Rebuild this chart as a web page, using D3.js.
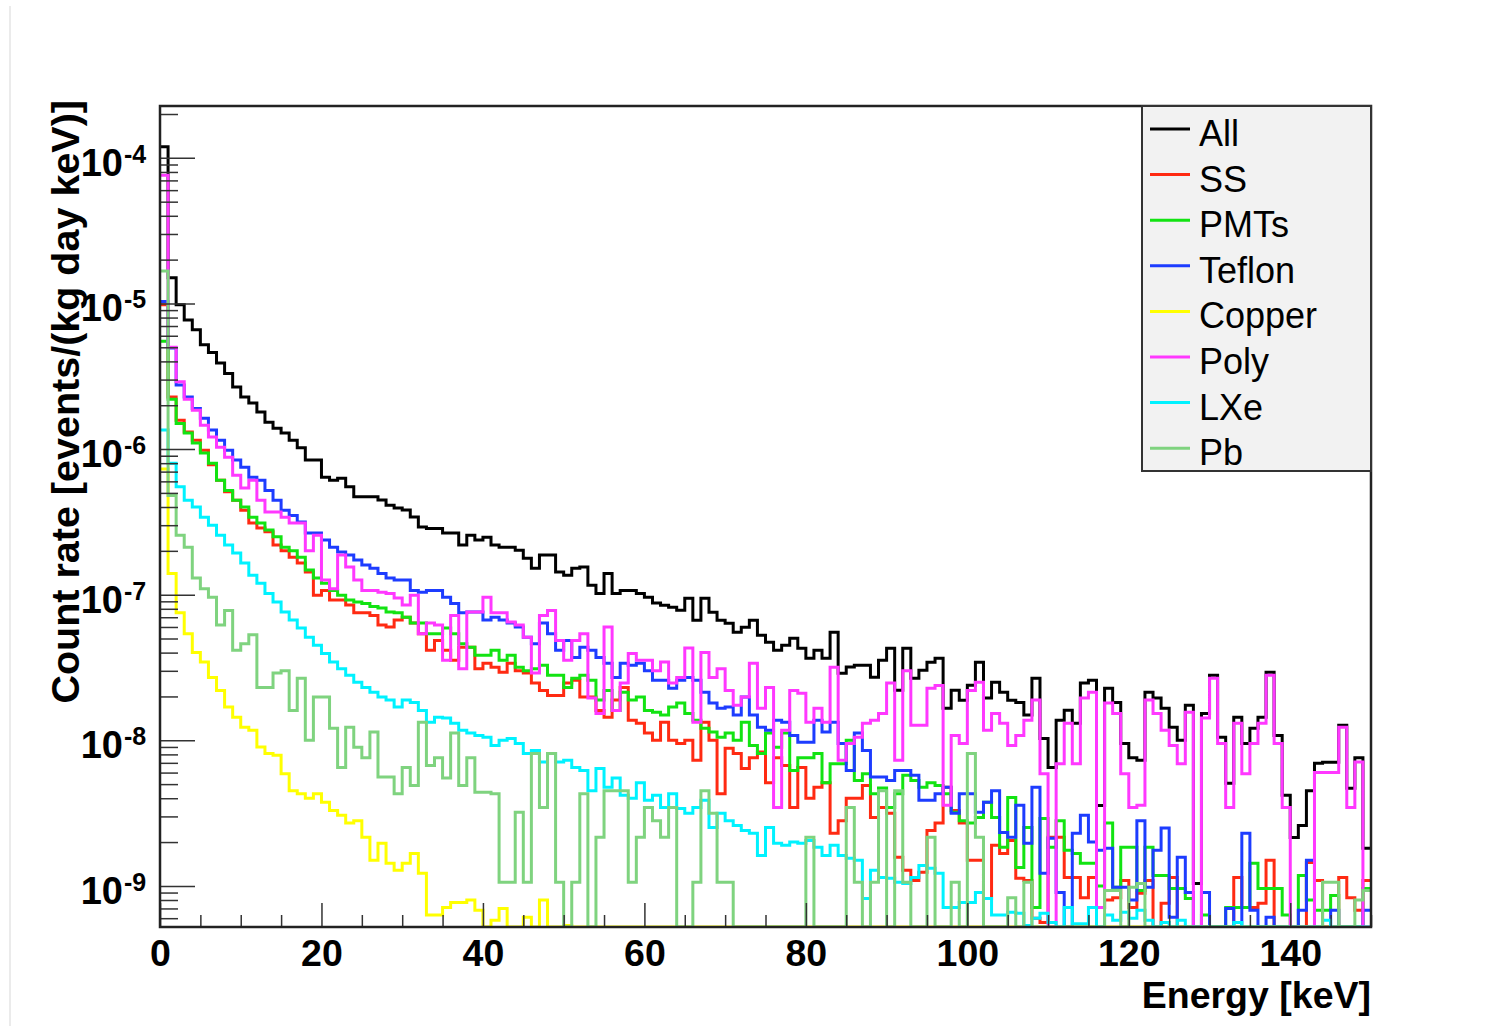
<!DOCTYPE html>
<html><head><meta charset="utf-8">
<script src="https://cdn.jsdelivr.net/npm/d3@7"></script>
<style>
html,body{margin:0;padding:0;background:#fff;}
svg{display:block;}
text{font-family:"Liberation Sans", Arial, Helvetica, sans-serif;}
</style></head><body>
<svg id="chart" width="1506" height="1026"></svg>
<script>
// ---------------- DATA ----------------
// energy bins: 1 keV wide, low edges 0..149 keV
const energyBins = d3.range(0, 150);
const binWidth = 1;

const seriesNames = ["All", "SS", "PMTs", "Teflon", "Copper", "Poly", "LXe", "Pb"];

const allRate = [
1.19e-4,1.5e-5,9.8e-6,7.7e-6,6.6e-6,5.2e-6,4.6e-6,3.9e-6,3.3e-6,2.67e-6,
2.28e-6,2.07e-6,1.8e-6,1.53e-6,1.39e-6,1.29e-6,1.15e-6,1.02e-6,8.4e-7,8.4e-7,
6.4e-7,6.1e-7,6.3e-7,5.5e-7,4.7e-7,4.7e-7,4.7e-7,4.46e-7,4.12e-7,3.93e-7,
3.81e-7,3.41e-7,2.91e-7,2.85e-7,2.85e-7,2.65e-7,2.65e-7,2.19e-7,2.56e-7,2.37e-7,
2.48e-7,2.19e-7,2.12e-7,2.12e-7,2.02e-7,1.78e-7,1.52e-7,1.87e-7,1.87e-7,1.43e-7,
1.36e-7,1.52e-7,1.55e-7,1.16e-7,1.02e-7,1.4e-7,1.02e-7,1.07e-7,1.07e-7,1.02e-7,
9.6e-8,8.75e-8,8.47e-8,8.2e-8,7.82e-8,9.46e-8,6.68e-8,9.46e-8,7.58e-8,6.68e-8,
6.37e-8,5.52e-8,5.98e-8,6.68e-8,5.27e-8,4.72e-8,4.16e-8,4.5e-8,5.02e-8,4.29e-8,
3.66e-8,4.16e-8,3.66e-8,5.52e-8,2.89e-8,3.18e-8,3.28e-8,3.28e-8,2.71e-8,3.55e-8,
4.29e-8,2.21e-8,4.29e-8,2.67e-8,3.03e-8,3.44e-8,3.66e-8,1.66e-8,2.21e-8,1.88e-8,
2.39e-8,3.44e-8,1.95e-8,2.5e-8,2.14e-8,1.88e-8,1.82e-8,1.49e-8,2.67e-8,1.03e-8,
6.5e-9,1.37e-8,1.61e-8,1.31e-8,2.47e-8,2.58e-8,3.57e-9,2.28e-8,1.82e-8,9.5e-9,
7.6e-9,7.3e-9,2.14e-8,1.95e-8,1.66e-8,1.23e-8,1.0e-8,1.74e-8,1.04e-9,1.53e-8,
2.8e-8,1.05e-8,5.06e-9,1.44e-8,9.5e-9,1.21e-8,1.44e-8,2.93e-8,1.08e-8,4.19e-9,
2.15e-9,2.6e-9,4.5e-9,6.95e-9,7.06e-9,7.06e-9,1.27e-8,4.68e-9,7.6e-9,1.81e-9
];

const ssRate = [
9.8e-6,2.28e-6,1.58e-6,1.31e-6,1.15e-6,9.8e-7,7.8e-7,6.1e-7,5.1e-7,4.45e-7,
3.8e-7,3.1e-7,2.87e-7,2.7e-7,2.19e-7,2.0e-7,1.81e-7,1.65e-7,1.43e-7,9.9e-8,
1.07e-7,9.2e-8,9.2e-8,8.5e-8,7.5e-8,7.5e-8,7.2e-8,6.2e-8,6.0e-8,6.7e-8,
7.0e-8,6.4e-8,5.4e-8,4.15e-8,4.85e-8,4.15e-8,3.55e-8,4.35e-8,4.35e-8,3.1e-8,
3.38e-8,3.17e-8,2.93e-8,3.38e-8,3.0e-8,2.9e-8,2.47e-8,2.2e-8,2.03e-8,2.03e-8,
2.47e-8,2.58e-8,1.98e-8,1.98e-8,1.6e-8,1.44e-8,1.89e-8,2.3e-8,1.37e-8,1.31e-8,
1.12e-8,1.0e-8,1.33e-8,1.0e-8,9.5e-9,1.0e-8,7.3e-9,1.33e-8,1.0e-8,4.3e-9,
8.8e-9,8.1e-9,6.4e-9,7.6e-9,8.3e-9,5.1e-9,7.6e-9,6.7e-9,3.46e-9,6.5e-9,
4.0e-9,4.75e-9,5.1e-9,2.3e-9,2.8e-9,4.0e-9,4.0e-9,4.9e-9,2.95e-9,3.46e-9,
3.15e-9,1.57e-9,1.28e-9,1.09e-9,1.24e-9,2.4e-9,2.7e-9,4.75e-9,3.3e-9,2.7e-9,
1.5e-9,1.5e-9,8.2e-10,1.9e-9,1.67e-9,2.05e-9,1.13e-9,1.09e-9,6.0e-10,5.6e-10,
2.16e-9,2.16e-9,1.14e-9,1.14e-9,8.3e-10,1.14e-9,7.1e-10,8.0e-10,8.3e-10,1.09e-9,
7.1e-10,8.9e-10,1.09e-9,0,7.6e-10,1.14e-9,0,0,0,0,
0,0,0,1.14e-9,7.1e-10,7.1e-10,7.6e-10,1.5e-9,0,0,
0,0,1.45e-9,1.09e-9,0,0,1.14e-9,8.3e-10,6.8e-10,1.09e-9
];

const pmtRate = [
5.5e-6,2.2e-6,1.5e-6,1.29e-6,1.1e-6,9.4e-7,8.0e-7,6.1e-7,5.2e-7,4.45e-7,
4.0e-7,3.4e-7,3.1e-7,2.78e-7,2.5e-7,2.12e-7,2.0e-7,1.81e-7,1.48e-7,1.3e-7,
1.2e-7,1.07e-7,9.9e-8,9.2e-8,8.9e-8,8.7e-8,8.3e-8,8.1e-8,7.6e-8,7.5e-8,
7.0e-8,6.4e-8,6.4e-8,5.4e-8,5.4e-8,5.9e-8,5.4e-8,4.6e-8,4.35e-8,3.84e-8,
3.84e-8,4.15e-8,3.55e-8,3.84e-8,3.17e-8,3.0e-8,3.1e-8,3.28e-8,2.8e-8,2.8e-8,
2.3e-8,2.67e-8,2.8e-8,2.58e-8,1.89e-8,2.2e-8,1.6e-8,2.14e-8,1.89e-8,1.98e-8,
1.6e-8,1.56e-8,1.49e-8,1.69e-8,1.8e-8,1.53e-8,1.37e-8,1.21e-8,1.14e-8,1.05e-8,
1.12e-8,1.0e-8,1.33e-8,9.2e-9,8.1e-9,1.12e-8,8.95e-9,1.12e-8,6.2e-9,7.6e-9,
7.6e-9,8.1e-9,5.1e-9,6.9e-9,6.9e-9,1.0e-8,5.3e-9,5.9e-9,4.3e-9,4.7e-9,
3.46e-9,4.3e-9,5.75e-9,5.3e-9,4.75e-9,5.1e-9,4.9e-9,4.3e-9,3.2e-9,2.8e-9,
2.7e-9,2.95e-9,3.75e-9,2.95e-9,1.84e-9,4.05e-9,1.34e-9,2.52e-9,7.1e-10,2.9e-9,
1.84e-9,2.8e-9,1.76e-9,1.67e-9,1.43e-9,1.43e-9,1.0e-9,2.7e-9,9.8e-10,1.84e-9,
1.84e-9,9.3e-10,1.84e-9,1.18e-9,1.18e-9,9.6e-10,9.6e-10,8.2e-10,0,6.3e-10,
0,0,7.1e-10,7.1e-10,7.1e-10,1.43e-9,9.6e-10,9.6e-10,9.6e-10,6.3e-10,
0,1.18e-9,8.0e-10,6.8e-10,6.8e-10,8.6e-10,0,0,0,9.6e-10
];

const teflonRate = [
1.03e-5,4.95e-6,2.75e-6,2.28e-6,1.9e-6,1.63e-6,1.35e-6,1.15e-6,9.8e-7,8.4e-7,
7.5e-7,6.4e-7,6.1e-7,5.2e-7,4.45e-7,3.8e-7,3.5e-7,3.15e-7,2.65e-7,2.65e-7,
2.37e-7,2.12e-7,1.96e-7,1.87e-7,1.73e-7,1.6e-7,1.52e-7,1.4e-7,1.3e-7,1.26e-7,
1.26e-7,1.07e-7,1.04e-7,1.07e-7,1.07e-7,9.6e-8,8.7e-8,7.5e-8,7.6e-8,7.6e-8,
6.7e-8,7.0e-8,6.7e-8,6.4e-8,6.0e-8,5.1e-8,4.6e-8,6.4e-8,5.4e-8,4.15e-8,
4.85e-8,3.7e-8,4.35e-8,4.15e-8,3.7e-8,3.38e-8,2.7e-8,3.38e-8,3.28e-8,3.38e-8,
3.0e-8,2.58e-8,2.58e-8,2.28e-8,2.58e-8,2.7e-8,2.58e-8,2.14e-8,1.8e-8,1.66e-8,
1.69e-8,1.49e-8,1.98e-8,1.49e-8,1.23e-8,1.17e-8,1.37e-8,1.33e-8,1.08e-8,9.7e-9,
9.7e-9,1.37e-8,1.14e-8,1.33e-8,9.5e-9,6.2e-9,1.12e-8,8.5e-9,5.6e-9,5.6e-9,
5.3e-9,6.2e-9,6.2e-9,5.75e-9,3.87e-9,3.87e-9,4.3e-9,4.75e-9,3.15e-9,4.3e-9,
4.3e-9,3.2e-9,3.75e-9,4.5e-9,2.33e-9,2.16e-9,3.58e-9,1.96e-9,4.75e-9,1.22e-9,
2.12e-9,9.0e-10,0,2.3e-9,3.05e-9,2.0e-9,1.76e-9,1.81e-9,9.8e-10,9.8e-10,
8.0e-10,2.8e-9,9.8e-10,1.76e-9,2.5e-9,6.1e-10,1.57e-9,9.0e-10,0,9.0e-10,
0,0,7.0e-10,0,2.3e-9,6.8e-10,0,6.1e-10,0,0,
0,6.8e-10,1.5e-9,0,0,6.8e-10,0,0,0,6.8e-10
];

const copperRate = [
7.3e-7,1.4e-7,7.5e-8,5.4e-8,4.0e-8,3.45e-8,2.7e-8,2.2e-8,1.69e-8,1.44e-8,
1.23e-8,1.17e-8,9.0e-9,8.1e-9,7.9e-9,5.9e-9,4.5e-9,4.3e-9,4.0e-9,4.3e-9,
3.75e-9,3.3e-9,3.05e-9,2.7e-9,2.8e-9,2.16e-9,1.5e-9,1.96e-9,1.43e-9,1.28e-9,
1.43e-9,1.67e-9,1.22e-9,6.3e-10,6.3e-10,7.1e-10,7.7e-10,7.7e-10,8.0e-10,6.8e-10,
0,5.8e-10,7.0e-10,0,0,6.1e-10,0,8.0e-10,0,0,
5.35e-10,0,0,0,0,0,0,0,0,0,
0,0,0,0,0,0,0,0,0,0,
0,0,0,0,0,0,0,0,0,0,
0,0,0,0,0,0,0,0,0,0,
0,0,0,0,0,0,0,0,0,0,
0,0,0,0,0,0,0,0,0,0,
0,0,0,0,0,0,0,0,0,0,
0,0,0,0,0,0,0,0,0,0,
0,0,0,0,0,0,0,0,0,0,
0,0,0,0,0,0,0,0,0,0
];

const polyRate = [
7.6e-5,5.0e-6,2.9e-6,2.2e-6,1.85e-6,1.46e-6,1.21e-6,1.03e-6,8.8e-7,6.6e-7,
5.4e-7,6.1e-7,4.45e-7,3.7e-7,3.7e-7,3.4e-7,3.1e-7,3.1e-7,2.0e-7,2.56e-7,
1.26e-7,1.1e-7,1.87e-7,1.55e-7,1.26e-7,1.07e-7,1.07e-7,1.04e-7,1.02e-7,9.5e-8,
8.5e-8,9.9e-8,5.4e-8,6.4e-8,6.2e-8,3.55e-8,7.2e-8,3.1e-8,7.6e-8,7.6e-8,
9.6e-8,7.5e-8,7.5e-8,6.5e-8,6.2e-8,5.1e-8,2.9e-8,7.2e-8,7.8e-8,4.85e-8,
3.55e-8,4.85e-8,5.4e-8,1.95e-8,1.53e-8,6.0e-8,1.6e-8,2.47e-8,3.95e-8,3.55e-8,
3.55e-8,3.0e-8,3.45e-8,2.47e-8,2.7e-8,4.3e-8,1.33e-8,4.0e-8,2.7e-8,3.1e-8,
2.2e-8,1.74e-8,1.98e-8,3.38e-8,1.66e-8,2.3e-8,3.46e-9,1.17e-8,2.2e-8,2.1e-8,
1.33e-8,1.66e-8,1.33e-8,3.17e-8,7.3e-9,9.5e-9,1.05e-8,1.31e-8,1.37e-8,1.53e-8,
2.47e-8,7.3e-9,3.0e-8,1.27e-8,1.27e-8,2.28e-8,2.38e-8,3.58e-9,1.08e-8,9.5e-9,
2.2e-8,2.5e-8,1.17e-8,1.53e-8,1.31e-8,9.2e-9,1.08e-8,1.37e-8,1.89e-8,5.9e-9,
0,6.9e-9,1.31e-8,6.9e-9,1.95e-8,2.14e-8,7.1e-10,1.8e-8,1.53e-8,5.9e-9,
3.46e-9,3.58e-9,1.89e-8,1.53e-8,1.17e-8,9.2e-9,6.9e-9,1.56e-8,0,1.42e-8,
2.67e-8,9.5e-9,3.46e-9,1.31e-8,5.9e-9,9.5e-9,1.31e-8,2.8e-8,9.5e-9,3.46e-9,
0,0,0,6.0e-9,6.0e-9,6.0e-9,1.23e-8,3.46e-9,7.1e-9,0
];

const lxeRate = [
1.35e-6,8.0e-7,5.5e-7,4.45e-7,4.0e-7,3.4e-7,3.0e-7,2.56e-7,2.19e-7,1.93e-7,
1.65e-7,1.36e-7,1.2e-7,1.02e-7,8.9e-8,7.6e-8,6.7e-8,5.9e-8,5.1e-8,4.5e-8,
3.95e-8,3.45e-8,3.1e-8,2.8e-8,2.5e-8,2.3e-8,2.14e-8,1.98e-8,1.89e-8,1.69e-8,
1.89e-8,1.82e-8,1.6e-8,1.33e-8,1.44e-8,1.42e-8,1.31e-8,1.17e-8,1.12e-8,1.08e-8,
1.05e-8,9.2e-9,1.0e-8,1.03e-8,9.5e-9,8.1e-9,8.5e-9,7.1e-9,8.1e-9,7.1e-9,
7.3e-9,6.5e-9,6.2e-9,4.5e-9,6.4e-9,4.75e-9,5.5e-9,4.2e-9,4.0e-9,5.1e-9,
3.87e-9,4.2e-9,3.46e-9,4.3e-9,3.4e-9,3.15e-9,3.46e-9,3.87e-9,2.52e-9,3.15e-9,
2.8e-9,2.6e-9,2.4e-9,2.3e-9,1.62e-9,2.52e-9,1.96e-9,1.9e-9,2.0e-9,1.96e-9,
2.05e-9,1.84e-9,1.62e-9,1.9e-9,1.62e-9,1.55e-9,1.5e-9,8.2e-10,1.28e-9,1.14e-9,
1.13e-9,1.06e-9,1.04e-9,1.14e-9,1.38e-9,1.32e-9,1.22e-9,7.1e-10,7.1e-10,7.7e-10,
7.7e-10,9.0e-10,8.2e-10,6.3e-10,6.3e-10,6.6e-10,6.5e-10,5.35e-10,6.0e-10,6.5e-10,
5.6e-10,0,7.1e-10,5.5e-10,5.5e-10,7.1e-10,0,6.3e-10,5.8e-10,6.6e-10,
6.0e-10,6.8e-10,5.8e-10,0,5.6e-10,0,5.8e-10,0,0,0,
0,0,0,5.6e-10,0,0,0,0,0,0,
0,0,0,0,5.8e-10,0,0,0,0,0
];

const pbRate = [
1.67e-5,4.8e-7,2.56e-7,2.12e-7,1.3e-7,1.1e-7,9.6e-8,6.2e-8,7.8e-8,4.15e-8,
4.6e-8,5.3e-8,2.3e-8,2.3e-8,2.9e-8,3.0e-8,1.6e-8,2.67e-8,1.0e-8,1.98e-8,
1.98e-8,1.21e-8,6.5e-9,1.23e-8,8.95e-9,7.6e-9,1.14e-8,5.6e-9,5.6e-9,4.3e-9,
6.5e-9,4.9e-9,1.33e-8,6.7e-9,7.6e-9,5.5e-9,1.12e-8,4.9e-9,7.6e-9,4.4e-9,
4.4e-9,4.3e-9,1.06e-9,1.06e-9,3.2e-9,1.06e-9,8.1e-9,3.46e-9,8.1e-9,1.06e-9,
0,1.06e-9,4.3e-9,0,2.16e-9,4.5e-9,4.5e-9,4.5e-9,1.06e-9,2.16e-9,
3.46e-9,2.8e-9,2.16e-9,3.46e-9,0,0,1.06e-9,4.5e-9,3.15e-9,1.06e-9,
1.06e-9,0,0,0,0,0,0,0,0,0,
2.16e-9,0,0,0,0,3.46e-9,1.06e-9,0,1.06e-9,4.5e-9,
0,4.5e-9,1.06e-9,0,0,2.16e-9,0,0,1.06e-9,0,
8.1e-9,2.16e-9,0,0,0,8.3e-10,0,1.06e-9,0,0,
0,0,0,0,0,0,0,9.3e-10,9.3e-10,0,
9.8e-10,1.04e-9,0,0,0,0,0,0,0,0,
0,0,0,0,0,0,0,0,0,0,
0,0,0,0,1.06e-9,1.06e-9,0,0,8.0e-10,9.3e-10
];

const xTickLabels = [0, 20, 40, 60, 80, 100, 120, 140];
const yDecadeExponents = [-9, -8, -7, -6, -5, -4];
const xTitle = "Energy [keV]";
const yTitle = "Count rate [events/(kg day keV)]";

// ---------------- STYLE ----------------
const seriesColors = ["#000000", "#ff2a12", "#12e312", "#1d3cff", "#ffff00", "#ff38ff", "#00f2ff", "#7fd37f"];

// ---------------- DRAW ----------------
const W = 1506, H = 1026;
const plot = {left: 160, top: 106, right: 1371, bottom: 927};
const svg = d3.select("#chart");
svg.append("rect").attr("width", W).attr("height", H).attr("fill", "#fff");
svg.append("line").attr("x1", 10).attr("x2", 10).attr("y1", 6).attr("y2", H)
  .attr("stroke", "#ebebeb").attr("stroke-width", 2);

const x = d3.scaleLinear().domain([0, 150]).range([plot.left, plot.right]);
const y = d3.scaleLog().domain([5.22e-10, 2.27e-4]).range([plot.bottom, plot.top]);
const yMin = y.domain()[0];

svg.append("clipPath").attr("id", "clip").append("rect")
  .attr("x", plot.left).attr("y", plot.top)
  .attr("width", plot.right - plot.left).attr("height", plot.bottom - plot.top);

const seriesData = [allRate, ssRate, pmtRate, teflonRate, copperRate, polyRate, lxeRate, pbRate];
const stepLine = d3.line().curve(d3.curveStepAfter)
  .x(d => x(d[0]))
  .y(d => y(d[1] > 0 ? Math.max(d[1], yMin) : yMin));

const gData = svg.append("g").attr("clip-path", "url(#clip)");
seriesData.forEach((vals, k) => {
  const pts = energyBins.map((e, i) => [e, vals[i]]);
  pts.push([energyBins[energyBins.length - 1] + binWidth, vals[vals.length - 1]]);
  gData.append("path").attr("d", stepLine(pts)).attr("fill", "none")
    .attr("stroke", seriesColors[k]).attr("stroke-width", 3).attr("stroke-linejoin", "miter");
});

// x axis (ticks inside)
const xMinor = d3.range(0, 151, 5).filter(v => xTickLabels.indexOf(v) < 0);
const gxMinor = svg.append("g").attr("transform", `translate(0,${plot.bottom})`)
  .call(d3.axisBottom(x).tickValues(xMinor).tickSize(-12).tickFormat(""));
const gx = svg.append("g").attr("transform", `translate(0,${plot.bottom})`)
  .call(d3.axisBottom(x).tickValues(xTickLabels).tickSize(-24).tickPadding(12).tickFormat(d3.format("d")));
[gx, gxMinor].forEach(g => {
  g.select(".domain").remove();
  g.selectAll(".tick line").attr("stroke", "#333").attr("stroke-width", 1.5);
});
gx.selectAll(".tick text").attr("font-size", 37.5).attr("font-weight", "bold")
  .attr("fill", "#000").attr("font-family", "'Liberation Sans', Arial, sans-serif");

// y axis (log, ticks inside)
const yMajor = yDecadeExponents.map(e => Math.pow(10, e));
const yMinorVals = [];
for (let e = -10; e <= -4; e++) {
  for (let m = 2; m <= 9; m++) {
    const v = m * Math.pow(10, e);
    if (v >= y.domain()[0] && v <= y.domain()[1]) yMinorVals.push(v);
  }
}
const gyMinor = svg.append("g").attr("transform", `translate(${plot.left},0)`)
  .call(d3.axisLeft(y).tickValues(yMinorVals).tickSize(-18).tickFormat(""));
const gy = svg.append("g").attr("transform", `translate(${plot.left},0)`)
  .call(d3.axisLeft(y).tickValues(yMajor).tickSize(-35).tickFormat(""));
[gy, gyMinor].forEach(g => {
  g.select(".domain").remove();
  g.selectAll(".tick line").attr("stroke", "#333").attr("stroke-width", 1.5);
});
yMajor.forEach((v, i) => {
  const ty = y(v);
  svg.append("text").attr("x", 123).attr("y", ty + 18).attr("text-anchor", "end")
    .attr("font-size", 38).attr("font-weight", "bold").attr("fill", "#000").text("10");
  svg.append("text").attr("x", 124).attr("y", ty + 5).attr("text-anchor", "start")
    .attr("font-size", 25).attr("font-weight", "bold").attr("fill", "#000")
    .text(String(yDecadeExponents[i]));
});

// frame
svg.append("rect").attr("x", plot.left).attr("y", plot.top)
  .attr("width", plot.right - plot.left).attr("height", plot.bottom - plot.top)
  .attr("fill", "none").attr("stroke", "#222").attr("stroke-width", 2.5);

// titles
svg.append("text").attr("x", plot.right).attr("y", 1008).attr("text-anchor", "end")
  .attr("font-size", 37.5).attr("font-weight", "bold").attr("fill", "#000").text(xTitle);
svg.append("text").attr("transform", `translate(79,${plot.top - 6}) rotate(-90)`)
  .attr("text-anchor", "end").attr("font-size", 39.5).attr("font-weight", "bold")
  .attr("fill", "#000").text(yTitle);

// legend
const leg = {x: 1142, y: 106, w: 229, h: 365, rowH: 45.6, first: 129};
const gl = svg.append("g");
gl.append("rect").attr("x", leg.x).attr("y", leg.y).attr("width", leg.w).attr("height", leg.h)
  .attr("fill", "#f2f2f2").attr("stroke", "#333").attr("stroke-width", 2);
seriesNames.forEach((name, k) => {
  const ly = leg.first + k * leg.rowH;
  gl.append("line").attr("x1", leg.x + 8).attr("x2", leg.x + 48).attr("y1", ly).attr("y2", ly)
    .attr("stroke", seriesColors[k]).attr("stroke-width", 3);
  gl.append("text").attr("x", leg.x + 57).attr("y", ly + 17).attr("font-size", 36)
    .attr("fill", "#000").text(name);
});
</script>
</body></html>
